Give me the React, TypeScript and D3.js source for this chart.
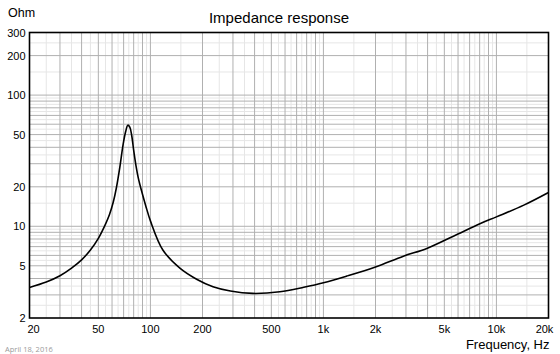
import React, { useRef, useEffect } from 'react';
import * as d3 from 'd3';

// impedance curve (Hz, Ohm)
const freqs = [20, 25, 30, 35, 40, 45, 50, 55, 58, 61, 63.5, 66.5, 69.5, 72, 74, 76, 78, 80, 82.5, 85, 88.6, 94, 100, 118, 148, 185, 230, 290, 390, 560, 770, 1000, 1360, 2000, 2900, 3960, 5640, 8080, 10000, 14400, 20000];
const ohms = [3.42, 3.76, 4.2, 4.8, 5.55, 6.6, 8.1, 10.4, 12.3, 15.3, 19.5, 28, 42, 53, 59, 57, 49, 38, 29, 23.5, 18.9, 14.3, 11, 6.6, 4.8, 3.95, 3.46, 3.21, 3.08, 3.17, 3.43, 3.71, 4.17, 4.9, 5.92, 6.78, 8.4, 10.5, 11.8, 14.5, 18.1];

const xTicks = [20, 50, 100, 200, 500, 1000, 2000, 5000, 10000, 20000];
const xTickLabels = ['20', '50', '100', '200', '500', '1k', '2k', '5k', '10k', '20k'];
const yTicks = [2, 5, 10, 20, 50, 100, 200, 300];

const W = 560;
const H = 354;
const margin = { top: 32.5, right: 11.5, bottom: 36, left: 29.5 };

export default function App() {
  const svgRef = useRef<SVGSVGElement>(null);

  useEffect(() => {
    document.body.style.margin = '0';
    if (!svgRef.current) return;
    const svg = d3.select(svgRef.current);
    svg.selectAll('*').remove();

    const x = d3.scaleLog().domain([20, 20000]).range([margin.left, W - margin.right]);
    const y = d3.scaleLog().domain([2, 300]).range([H - margin.bottom, margin.top]);

    // grid values: whole multiples dark, half multiples light
    const majorX: number[] = [];
    const minorX: number[] = [];
    [10, 100, 1000, 10000].forEach(dec => {
      for (let m = 1; m <= 9; m++) {
        const v = m * dec;
        if (v > 20 && v < 20000) majorX.push(v);
        const h = (m + 0.5) * dec;
        if (h > 20 && h < 20000) minorX.push(h);
      }
    });
    const majorY: number[] = [];
    const minorY: number[] = [];
    [1, 10, 100].forEach(dec => {
      for (let m = 1; m <= 9; m++) {
        const v = m * dec;
        if (v > 2 && v < 300) majorY.push(v);
        const h = (m + 0.5) * dec;
        if (h > 2 && h < 300) minorY.push(h);
      }
    });

    const x0 = margin.left, x1 = W - margin.right;
    const y0 = H - margin.bottom, y1 = margin.top;

    const grid = svg.append('g');
    grid.selectAll('.mnx').data(minorX).enter().append('line')
      .attr('x1', d => x(d)).attr('x2', d => x(d)).attr('y1', y0).attr('y2', y1)
      .attr('stroke', '#e6e6e6').attr('stroke-width', 1);
    grid.selectAll('.mny').data(minorY).enter().append('line')
      .attr('x1', x0).attr('x2', x1).attr('y1', d => y(d)).attr('y2', d => y(d))
      .attr('stroke', '#e6e6e6').attr('stroke-width', 1);
    grid.selectAll('.mjx').data(majorX).enter().append('line')
      .attr('x1', d => x(d)).attr('x2', d => x(d)).attr('y1', y0).attr('y2', y1)
      .attr('stroke', '#b0b0b0').attr('stroke-width', 1);
    grid.selectAll('.mjy').data(majorY).enter().append('line')
      .attr('x1', x0).attr('x2', x1).attr('y1', d => y(d)).attr('y2', d => y(d))
      .attr('stroke', '#b0b0b0').attr('stroke-width', 1);

    // frame
    svg.append('rect')
      .attr('x', x0).attr('y', y1).attr('width', x1 - x0).attr('height', y0 - y1)
      .attr('fill', 'none').attr('stroke', '#000').attr('stroke-width', 1.6);

    // curve
    const pts: [number, number][] = freqs.map((f, i) => [f, ohms[i]]);
    const line = d3.line<[number, number]>()
      .x(d => x(d[0]))
      .y(d => y(d[1]))
      .curve(d3.curveCatmullRom.alpha(0.5));
    svg.append('path')
      .attr('d', line(pts))
      .attr('fill', 'none')
      .attr('stroke', '#000')
      .attr('stroke-width', 1.6)
      .attr('stroke-linejoin', 'round');

    const font = 'Liberation Sans, Arial, sans-serif';

    // y labels
    svg.selectAll('.yl').data(yTicks).enter().append('text')
      .attr('x', x0 - 4)
      .attr('y', d => y(d) + 4)
      .attr('text-anchor', 'end')
      .attr('font-family', font)
      .attr('font-size', 11)
      .attr('fill', '#000')
      .text(d => String(d));

    // x labels, end ones pulled inside
    svg.selectAll('.xl').data(xTicks).enter().append('text')
      .attr('x', (d, i) => {
        const px = x(d);
        if (i === 0) return px + 4;
        if (i === xTicks.length - 1) return px - 4;
        return px;
      })
      .attr('y', y0 + 15)
      .attr('text-anchor', 'middle')
      .attr('font-family', font)
      .attr('font-size', 11)
      .attr('fill', '#000')
      .text((d, i) => xTickLabels[i]);

    svg.append('text')
      .attr('x', 8).attr('y', 17)
      .attr('font-family', font).attr('font-size', 12.5)
      .text('Ohm');

    svg.append('text')
      .attr('x', 279).attr('y', 23)
      .attr('text-anchor', 'middle')
      .attr('font-family', font).attr('font-size', 15)
      .text('Impedance response');

    svg.append('text')
      .attr('x', x1 + 1).attr('y', 349)
      .attr('text-anchor', 'end')
      .attr('font-family', font).attr('font-size', 13)
      .text('Frequency, Hz');

    svg.append('text')
      .attr('x', 5).attr('y', 352)
      .attr('font-family', 'Open Sans, sans-serif').attr('font-size', 7.5)
      .attr('fill', '#9a9a9a')
      .text('April 18, 2016');
  }, []);

  return <svg ref={svgRef} width={W} height={H} style={{ display: 'block', background: '#fff' }} />;
}
